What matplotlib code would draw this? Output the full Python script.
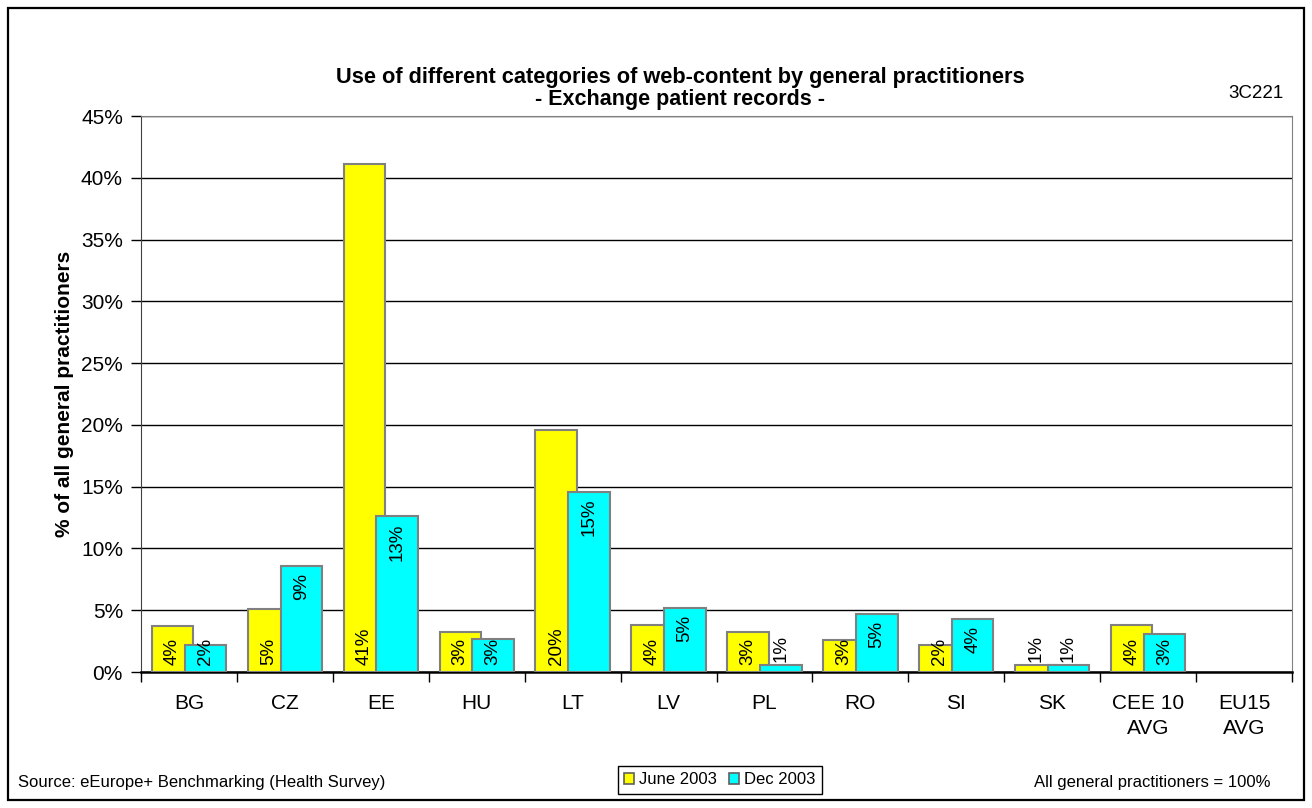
import matplotlib
matplotlib.use("Agg")
import matplotlib.pyplot as plt
from matplotlib.patches import Rectangle
from matplotlib.ticker import MultipleLocator, FuncFormatter
import numpy as np

plt.rcParams["font.family"] = ["Liberation Sans", "DejaVu Sans"]

categories = ["BG", "CZ", "EE", "HU", "LT", "LV", "PL", "RO", "SI", "SK",
              "CEE 10\nAVG", "EU15\nAVG"]
june_2003 = [3.7, 5.1, 41.1, 3.2, 19.6, 3.8, 3.2, 2.6, 2.2, 0.6, 3.8, np.nan]
dec_2003 = [2.2, 8.6, 12.6, 2.7, 14.6, 5.2, 0.6, 4.7, 4.3, 0.6, 3.1, np.nan]
series_names = ["June 2003", "Dec 2003"]
series_colors = ["#FFFF00", "#00FFFF"]

W, H = 1312, 808
fig = plt.figure(figsize=(W / 100, H / 100), dpi=100)

# outer chart frame
fig.patches.append(Rectangle((8 / W, 8 / H), (W - 16) / W, (H - 16) / H,
                             transform=fig.transFigure, fill=False,
                             edgecolor="black", linewidth=1.6))

ax_l, ax_r, ax_t, ax_b = 141, 1292, 116, 672
ax = fig.add_axes([ax_l / W, (H - ax_b) / H, (ax_r - ax_l) / W, (ax_b - ax_t) / H])

x = np.arange(len(categories))
bw = 0.433
off = 0.171
ax.bar(x - off, june_2003, bw, color=series_colors[0], edgecolor="#808080",
       linewidth=1.5, zorder=3, label=series_names[0])
ax.bar(x + off, dec_2003, bw, color=series_colors[1], edgecolor="#808080",
       linewidth=1.5, zorder=4, label=series_names[1])

ax.set_xlim(-0.5, len(categories) - 0.5)
ax.set_ylim(0, 45)
ax.yaxis.set_major_locator(MultipleLocator(5))
ax.yaxis.set_major_formatter(FuncFormatter(lambda v, p: f"{v:.0f}%"))
ax.grid(axis="y", color="black", linewidth=1.0, zorder=1)
ax.set_axisbelow(True)

ax.set_xticks(np.arange(len(categories) + 1) - 0.5)
ax.set_xticklabels([])
ax.set_xticks(x, minor=True)
ax.set_xticklabels(categories, minor=True, fontsize=15, linespacing=1.45)
ax.tick_params(axis="x", which="minor", length=0, pad=15.5)
ax.tick_params(axis="x", which="major", length=7, width=1, color="black")
ax.tick_params(axis="y", length=7, width=1, labelsize=15, pad=6)

for side in ("top", "right"):
    ax.spines[side].set_color("#808080")
ax.spines["left"].set_color("#404040")
ax.spines["bottom"].set_color("black")
ax.spines["bottom"].set_linewidth(1.8)

ax.set_ylabel("% of all general practitioners", fontsize=15, fontweight="bold",
              labelpad=5)


def pct(v):
    return f"{int(np.floor(v + 0.5))}%"


# value labels, rotated inside the bars
px_per_unit = (ax_b - ax_t) / 45.0
pt = 0.72
for i in range(len(categories)):
    for s, vals in enumerate((june_2003, dec_2003)):
        v = vals[i]
        if np.isnan(v):
            continue
        xc = x[i] + (off if s else -off)
        txt = pct(v)
        hpx = v * px_per_unit
        tlen = 14 * len(txt) - 1
        if hpx < 12:
            ax.annotate(txt, (xc, v), xytext=(0, 3 * pt), textcoords="offset points",
                        rotation=90, ha="center", va="bottom", fontsize=13.5, zorder=6)
        elif s == 1 and hpx - 7 - tlen >= 7:
            ax.annotate(txt, (xc, v), xytext=(0, -7 * pt), textcoords="offset points",
                        rotation=90, ha="center", va="top", fontsize=13.5, zorder=6)
        else:
            ax.annotate(txt, (xc, 0), xytext=(0, 7 * pt), textcoords="offset points",
                        rotation=90, ha="center", va="bottom", fontsize=13.5, zorder=6)

fig.text(680 / W, 1 - 77 / H, "Use of different categories of web-content by general practitioners",
         ha="center", va="center", fontsize=15.7, fontweight="bold")
fig.text(680 / W, 1 - 100 / H, "- Exchange patient records -",
         ha="center", va="center", fontsize=15.5, fontweight="bold")
fig.text(1284 / W, 1 - 93 / H, "3C221", ha="right", va="center", fontsize=13.5)

fig.text(18 / W, 1 - 783 / H, "Source: eEurope+ Benchmarking (Health Survey)",
         ha="left", va="center", fontsize=12)
fig.text(1270 / W, 1 - 783 / H, "All general practitioners = 100%",
         ha="right", va="center", fontsize=12)

handles, labels = ax.get_legend_handles_labels()
leg = fig.legend(handles, labels, loc="center", bbox_to_anchor=(720 / W, 1 - 780 / H),
                 ncol=2, fontsize=12, frameon=True, fancybox=False,
                 edgecolor="black", framealpha=1, handlelength=0.6, handleheight=0.6,
                 handletextpad=0.3, columnspacing=0.72, borderpad=0.4,
                 borderaxespad=0)
leg.get_frame().set_linewidth(1.0)
for h in leg.legend_handles:
    h.set_edgecolor("#606060")
    h.set_linewidth(1.2)

fig.savefig("out.png", dpi=100)
